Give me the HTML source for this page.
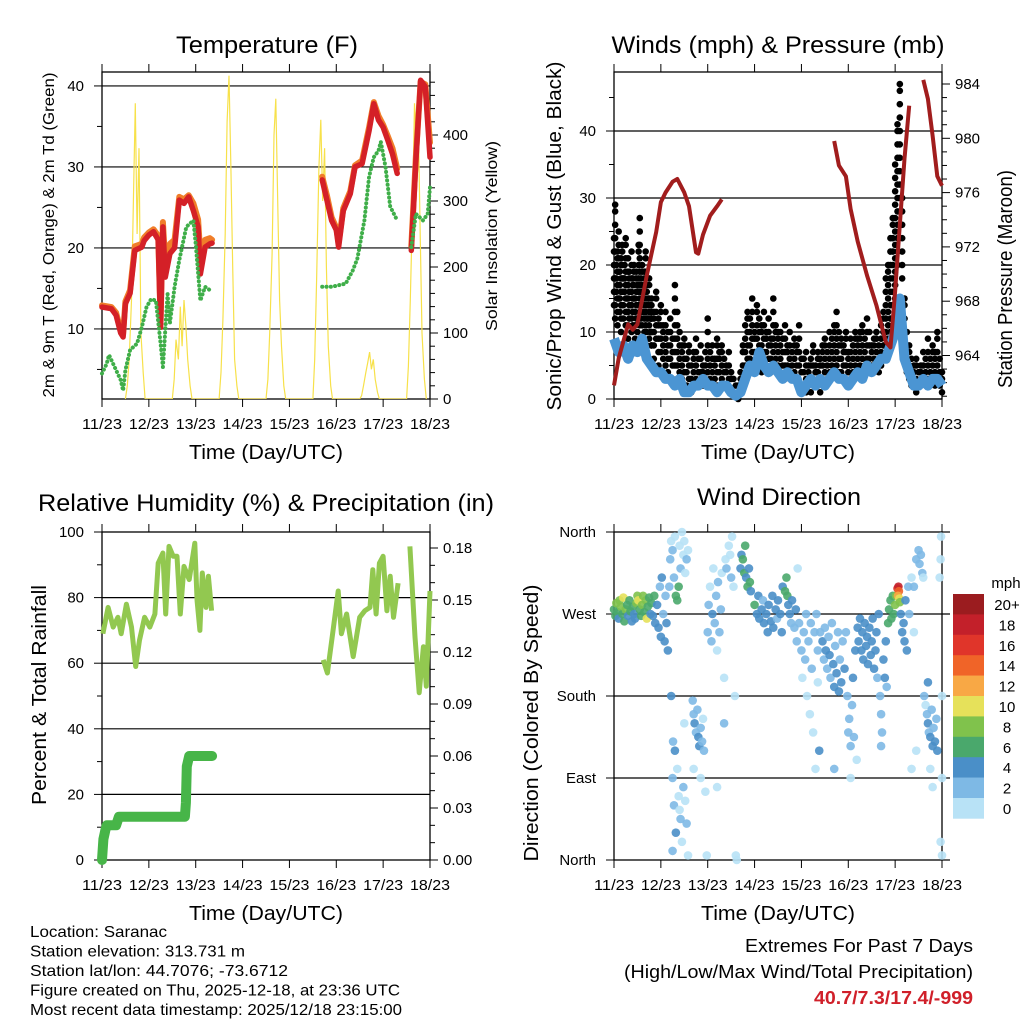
<!DOCTYPE html>
<html><head><meta charset="utf-8"><title>Saranac station meteogram</title>
<style>
html,body{margin:0;padding:0;background:#fff;}
svg{display:block;font-family:"Liberation Sans",sans-serif;}
</style></head>
<body>
<svg id="chart" width="1024" height="1024" viewBox="0 0 1024 1024" xmlns="http://www.w3.org/2000/svg"></svg>
<script>
// ---------- DATA ----------
const dayLabels = ['11/23','12/23','13/23','14/23','15/23','16/23','17/23','18/23'];
const tempT = [0,0.2,0.3,0.4,0.45,0.5,0.6,0.7,0.85,0.9,1.0,1.1,1.2,1.25,1.3,1.35,1.45,1.55,1.65,1.75,1.85,1.95,2.05,2.1,2.2,2.3,2.35,null,4.7,4.8,4.9,5.0,5.05,5.15,5.3,5.4,5.55,5.7,5.8,5.9,6.0,6.1,6.2,6.3,null,6.6,6.7,6.8,6.9,7.0];
const tempRed = [12.7,12.5,11.7,9.5,9.0,13.1,14.4,19.7,20.1,20.9,21.6,22,21,10.2,22.6,16.4,19.3,20,25.9,25.5,26.3,24.6,22.6,16.8,20.1,20.5,20.6,null,28.4,25.9,23.4,22.2,20.1,24.6,26.7,30,30.4,34.5,37.8,35.8,34.9,33.3,31.6,29.2,null,19.7,30.8,40.7,39.9,31.2];
const tempOrange = [12.9,12.7,12.0,9.8,9.3,13.4,14.8,20.2,20.5,21.3,21.9,22.3,21.5,11.0,23.2,18.0,20.5,21.0,26.3,26.0,26.5,25.5,23.5,19.0,21.0,21.2,21.0,null,28.8,26.5,23.8,22.5,20.6,24.9,27.0,30.2,30.8,34.9,38.0,36.3,35.2,33.8,32.3,29.8,null,20.2,31.3,40.5,40.2,33.0];
const dewT = [0,0.1,0.15,0.3,0.4,0.45,0.5,0.6,0.75,0.85,0.95,1.05,1.15,1.25,1.3,1.4,1.45,1.55,1.65,1.8,1.95,2.0,2.1,2.2,2.35,null,4.7,4.9,5.2,5.35,5.45,5.6,5.7,5.8,5.9,5.95,6.05,6.15,6.3,null,6.6,6.7,6.85,6.95,7.0];
const dewV = [4.5,5.7,6.8,4.9,3.7,2.4,4.9,7.4,8.2,10.2,12.7,13.7,13.5,8.2,5.3,14.3,10.7,15.2,18.5,22.6,23.4,20.5,13.5,15.2,14.6,null,15.2,15.2,15.6,17.2,18.7,23.4,28.8,31.2,32,33.1,30,25.1,23.4,null,20.1,24.2,23.4,24.2,27.5];
const solarOffsets = [0.50,0.54,0.58,0.63,0.67,0.71,0.75,0.79,0.83,0.88,0.92];
const solarV = [
 0,20,60,150,300,448,250,380,100,40,0,
 0,30,90,60,140,80,150,110,60,20,0,
 0,40,120,250,420,490,350,200,60,20,0,
 0,30,100,220,400,455,300,150,80,20,0,
 0,60,180,350,423,300,380,200,80,20,0,
 0,5,20,40,55,71,45,60,30,10,0,
 0,50,150,300,448,380,420,250,100,30,0];
const windStep = 0.1;
const windV = [9,7,8,6,8,7,9,6,5,4, 4,3,3,2,3,1,1,2,2,3, 2,2,1,2,2,1,0.5,1,3,5, 4,7,5,4,5,4,3,4,3,3, 1,2,3,2,3,2,3,4,3,3, 2,3,4,3,5,4,5,6,6,8, 10,15,6,4,2,2,3,2,3,3,2];
const gustStepA = 0.025;
const gustHiA = [24,29,20,22,25,19,21,23,18,20,24,17,21,19,16,22,18,20,15,19,17,23,27,18,20,16,19,22,17,15,18,14,13];
const gustLoA = [14,12,16,11,15,13,10,14,12,16,11,13,9,12,14,10,11,13,9,12,10,14,11,12,9,13,10,11,8,12,9,10,8];
const gustStartB = 0.8, gustStepB = 0.05;
const gustHiB = [15,13,16,12,14,11,13,10,12,9,17, 13,10,8,9, 6,8,5,7,9,6,8,5,7,12, 7,8,6,9,7,8,6,5,7,4, 3,2,2,4, 8,11,13,12,15,10, 14,12,11,13,10,12,9,15,11,10, 10,9,11,8,10,7,9,8,11,6, 6,7,5,6,8,5,7,6, 8,9,7,10,9,11,13,10, 9,8,10,7,9,8,10,9, 10,11,9,12,10,8, 9,10,8,11,13,18, 20,24,27,35, 41,47,30,15, 10,8,6,5,6,4, 5,7,6,9,6,8,7,10,6,4];
const gustLoB = [8,6,9,5,7,6,5,4,6,3,5, 3,2,3,2, 2,3,1,2,3,2,4,2,3,4, 3,2,3,2,4,3,2,2,3,1, 1,0.5,0,1, 3,5,6,4,7,5, 5,6,4,7,5,6,4,5,6,5, 4,5,3,5,4,3,4,3,5,2, 2,1,2,1,3,2,2,1, 3,4,3,4,5,4,5,4, 4,3,5,4,3,4,5,4, 5,4,5,6,4,5, 4,5,4,5,6,8, 9,10,12,15, 20,28,18,8, 4,3,2,2,1,2, 2,3,2,3,2,3,2,3,2,1];
const presT = [0,0.1,0.3,0.4,0.5,0.7,0.9,1.0,1.1,1.25,1.35,1.5,1.6,1.75,1.8,1.9,2.05,2.2,2.3,null,4.7,4.8,4.95,5.05,5.2,5.4,5.6,5.8,5.9,6.0,6.1,6.2,6.3,null,6.6,6.7,6.8,6.9,7.0];
const presV = [961.8,963.8,966.3,965.9,966.3,969.9,973.1,975.3,976,976.8,977,976,975,971.6,971.5,972.9,974.3,975,975.5,null,979.8,978,977.2,974.8,972.4,969.9,967.7,965,964.6,968.7,973.6,978.5,982.4,null,984.3,982.9,980.2,977.2,976.5];
const rhT = [0.02,0.13,0.24,0.34,0.41,0.52,0.63,0.72,0.80,0.91,1.02,1.13,1.20,1.30,1.36,1.43,1.52,1.60,1.67,1.75,1.86,1.98,2.03,2.09,2.14,2.22,2.27,2.34,null,4.72,4.81,4.94,5.04,5.11,5.22,5.36,5.50,5.61,5.72,5.78,5.85,5.92,6.00,6.08,6.15,6.22,6.32,null,6.57,6.68,6.77,6.86,6.92,7.0];
const rhV = [69,77,71,74,69,78,71,59,67,74,71,75,90.5,93.6,75,95.6,92.6,92.6,75,89.5,85.5,96.6,79,70,87.5,77,86.5,76,null,61,57,71,82,69,75,62,74,76,77,88.5,75,90.5,92.6,76,86.5,74,84.4,null,95.6,68,51,65,53,82];
const rainT = [0,0.03,0.07,0.1,0.3,0.36,1.77,1.79,1.81,1.86,2.35];
const rainV = [0,0.012,0.017,0.02,0.02,0.025,0.025,0.033,0.054,0.06,0.06];
const dirT = [0,0.03,0.05,0.08,0.1,0.12,0.15,0.18,0.2,0.22,0.25,0.28,0.3,0.33,0.35,0.38,0.4,0.43,0.45,0.48,0.5,0.52,0.55,0.58,0.6,0.62,0.65,0.68,0.7,0.72,0.75,0.78,0.8,0.83,0.86,0.88,
0.92,0.95,0.98,1.0,1.02,1.05,1.08,1.1,1.12,1.15,1.18,
1.2,1.22,1.25,1.28,1.3,1.32,1.35,1.38,1.4,1.42,1.45,1.48,1.5,1.52,1.55,1.58,
1.22,1.25,1.26,1.28,1.3,1.32,1.35,1.38,1.4,1.42,1.45,1.48,1.5,1.52,1.55,1.58,1.25,
1.68,1.7,1.72,1.75,1.78,1.8,1.82,1.85,1.88,1.9,1.92,1.7,1.85,1.95,1.98,
2.0,2.02,2.05,2.08,2.1,2.12,2.15,2.18,2.2,2.22,2.25,2.28,2.3,2.35,2.35,2.2,2.38,2.4,2.45,2.48,2.5,2.52,2.55,2.58,2.6,2.62,
2.7,2.72,2.75,2.78,2.8,2.82,2.85,2.88,2.9,2.92,
3.0,3.05,3.08,3.1,3.15,3.18,3.2,3.25,3.28,3.3,3.35,3.38,3.4,3.45,3.48,3.5,3.55,3.58,3.6,3.65,3.68,3.7,3.72,3.75,3.78,3.8,3.85,3.88,3.9,3.92,
3.95,4.0,4.02,4.05,4.08,4.1,4.12,4.15,4.18,4.2,4.22,4.25,4.28,4.3,4.32,4.35,4.38,4.4,4.35,
4.45,4.48,4.5,4.52,4.55,4.58,4.6,4.62,4.65,4.68,4.7,4.72,4.75,4.78,4.8,4.82,4.85,4.88,4.7,
4.92,4.95,4.98,5.0,5.02,5.05,5.08,5.1,5.12,5.15,5.18,5.2,5.05,
5.22,5.25,5.28,5.3,5.32,5.35,5.38,5.4,5.42,5.45,5.48,5.5,5.52,5.55,5.58,
5.6,5.62,5.65,5.68,5.7,5.72,5.75,5.78,5.8,5.82,5.7,
5.85,5.87,5.9,5.92,5.95,5.97,6.0,6.02,
6.05,6.07,6.08,6.06,6.09,6.1,
6.12,6.15,6.18,6.2,6.22,6.25,6.28,6.3,
6.35,6.4,6.45,6.5,6.52,6.55,6.58,6.6,6.4,6.35,6.45,
6.62,6.65,6.68,6.7,6.72,6.75,6.78,6.8,6.82,6.85,6.88,6.9,6.7,6.75,6.8,
6.95,6.97,6.98,7.0,7.0,6.97,7.0];
const dirD = [275,268,282,272,265,285,278,270,288,262,275,280,268,285,273,262,278,270,265,282,290,285,275,268,280,290,272,285,265,278,288,270,282,268,290,260,
280,255,300,245,310,270,240,290,260,230,300,
330,350,340,310,355,290,285,300,345,320,360,335,350,315,330,340,
180,90,130,60,120,30,100,70,55,45,20,80,150,65,40,5,10,
175,160,150,140,165,135,125,145,130,155,120,100,90,75,5,
250,280,300,240,270,320,260,290,230,305,250,275,315,200,150,80,330,320,345,335,310,355,300,180,5,0,
320,335,330,315,345,310,300,320,305,295,
280,270,290,265,275,285,260,270,250,280,262,290,255,275,265,285,270,250,300,295,310,290,280,270,260,285,255,275,240,320,
260,230,200,250,220,270,180,240,160,260,210,140,250,100,270,230,120,250,195,
240,220,255,230,210,245,225,200,260,215,190,235,205,250,185,220,195,240,100,
210,250,180,140,155,125,170,200,135,230,110,255,90,
240,265,230,250,220,260,235,245,215,255,225,240,265,210,230,
250,200,270,180,160,140,220,200,240,190,125,
260,275,285,265,290,270,280,290,
298,300,295,290,287,283,
270,250,260,240,285,230,300,270,
310,300,330,340,325,335,315,310,250,100,120,
180,170,160,150,140,135,165,125,145,130,155,120,195,100,80,
310,330,355,180,90,20,5];
const dirS = [7,6,8,7,5,8,9,7,10,6,8,7,5,7,6,4,7,5,4,8,9,10,7,6,8,9,7,8,10,6,7,5,6,4,7,4,
4,4,3,4,4,3,4,2,4,4,3,
2,1,2,3,1,6,6,6,1,2,0,1,1,1,2,1,
4,3,2,2,4,4,1,1,1,3,1,2,0,1,2,1,2,
3,2,4,3,2,4,5,3,2,1,2,1,1,1,1,
2,3,1,2,4,1,3,2,1,2,2,3,1,1,2,1,1,2,1,1,2,0,1,1,1,1,
4,4,6,6,6,4,6,4,6,4,
6,4,4,4,4,2,4,5,4,4,4,4,4,4,2,4,4,4,4,6,6,6,4,4,2,4,2,4,2,1,
2,2,1,2,2,2,1,2,1,2,2,1,3,0,3,2,4,2,1,
4,3,2,4,3,2,4,3,2,4,4,2,4,3,4,2,4,2,2,
4,2,2,2,2,2,2,4,2,4,1,4,1,
4,4,4,4,4,4,4,5,4,4,4,4,4,4,4,
4,3,4,2,2,2,4,4,4,2,2,
6,6,7,6,7,6,8,9,
16,18,15,12,10,8,
4,4,4,4,4,4,2,2,
1,2,2,2,2,2,2,1,1,1,1,
2,1,2,4,2,4,2,4,2,4,2,4,4,1,1,
1,1,0,1,1,1,1];
const speedBins = ['0','2','4','6','8','10','12','14','16','18','20+'];
const speedColors = ['#b8e2f6','#7eb9e5','#4a8fc8','#4aa86c','#80c24c','#e6e15a','#f8a845','#f06428','#e0352a','#c3202a','#9b1c1f'];

// ---------- DRAWING ----------
const NS='http://www.w3.org/2000/svg';
const svg=document.getElementById('chart');
function mk(tag, attrs, parent){const e=document.createElementNS(NS,tag);for(const k in attrs)e.setAttribute(k,attrs[k]);(parent||svg).appendChild(e);return e;}
function grp(name){const g=mk('g',{});return g;}
function txt(g,s,x,y,size,anchor,len,extra){const a=Object.assign({x:x,y:y,'font-size':size,'text-anchor':anchor||'middle',fill:'#000'},extra||{});if(len){a.textLength=len;a.lengthAdjust='spacingAndGlyphs';}const t=mk('text',a,g);t.textContent=s;return t;}
function pathFrom(ts,vs,fx,fy){let d='',pen=false;for(let i=0;i<ts.length;i++){if(ts[i]===null||vs[i]===null){pen=false;continue;}d+=(pen?'L':'M')+fx(ts[i]).toFixed(1)+','+fy(vs[i]).toFixed(1);pen=true;}return d;}

const P={tl:{x0:102,x1:430,y0:72,y1:399},tr:{x0:614,x1:942,y0:72,y1:399},bl:{x0:102,x1:430,y0:532,y1:860},br:{x0:614,x1:942,y0:532,y1:860}};
function xs(p){return t=>p.x0+t*(p.x1-p.x0)/7;}

function frame(p,name){
  const g=grp(name);
  const r=mk('rect',{x:p.x0,y:p.y0,width:p.x1-p.x0,height:p.y1-p.y0,fill:'none',stroke:'#000','stroke-width':1.3},g);
  
  
  const fx=xs(p);
  for(let i=0;i<dayLabels.length;i++){
    const x=fx(i);
    mk('line',{x1:x,x2:x,y1:p.y1,y2:p.y1+8,stroke:'#000','stroke-width':1},g);
    mk('line',{x1:x,x2:x,y1:p.y0,y2:p.y0-8,stroke:'#000','stroke-width':1},g);
    const t=txt(g,dayLabels[i],x,p.y1+30,15,'middle',40);
    
    
  }
  const xt=txt(g,'Time (Day/UTC)',(p.x0+p.x1)/2,p.y1+60,20,'middle',154);
  
  
  return g;
}
function leftAxis(g,p,vals,fy,labels,minor,grid){
  vals.forEach((v,i)=>{const y=fy(v);
    mk('line',{x1:p.x0-8,x2:p.x0,y1:y,y2:y,stroke:'#000','stroke-width':1},g);
    if(grid)mk('line',{x1:p.x0,x2:p.x1,y1:y,y2:y,stroke:'#000','stroke-width':1.2},g);
    const t=txt(g,labels[i],p.x0-18,y+5,15,'end');
    
    });
  (minor||[]).forEach(v=>{const y=fy(v);if(y<p.y0||y>p.y1)return;mk('line',{x1:p.x0-5,x2:p.x0,y1:y,y2:y,stroke:'#000','stroke-width':1},g);});
}
function rightAxis(g,p,vals,fy,labels,minor){
  vals.forEach((v,i)=>{const y=fy(v);
    mk('line',{x1:p.x1,x2:p.x1+8,y1:y,y2:y,stroke:'#000','stroke-width':1},g);
    const t=txt(g,labels[i],p.x1+13,y+5,15,'start');
    
    });
  (minor||[]).forEach(v=>{const y=fy(v);if(y<p.y0||y>p.y1)return;mk('line',{x1:p.x1,x2:p.x1+5,y1:y,y2:y,stroke:'#000','stroke-width':1},g);});
}
function vtitle(g,s,x,yc,size,len,name){const t=txt(g,s,0,0,size,'middle',len,{transform:'translate('+x+','+yc+') rotate(-90)'});}

// ===== Temperature panel =====
(function(){
  const p=P.tl,fx=xs(p);
  const fy=v=>399-(v-1.35)*8.1, fs=v=>399-v*0.66;
  const g=frame(p,'temperature-panel');
  const tt=txt(g,'Temperature (F)',267,53,24,'middle',182);
  
  
  leftAxis(g,p,[10,20,30,40],fy,['10','20','30','40'],[5,15,25,35],true);
  const sm=[];for(let v=20;v<=480;v+=20)if(v%100)sm.push(v);
  rightAxis(g,p,[0,100,200,300,400],fs,['0','100','200','300','400'],sm);
  vtitle(g,'2m & 9m T (Red, Orange) & 2m Td (Green)',54,235,16,325,'temperature-y-title');
  vtitle(g,'Solar Insolation (Yellow)',497,236,16,190,'solar-y-title');
  const cl=mk('clipPath',{id:'ctl'},g);mk('rect',{x:p.x0,y:p.y0,width:p.x1-p.x0,height:p.y1-p.y0},cl);
  const st=[],sv=[];
  for(let d=0;d<7;d++){for(let k=0;k<solarOffsets.length;k++){st.push(d+solarOffsets[k]);sv.push(solarV[d*solarOffsets.length+k]);}}
  const sl=mk('path',{d:pathFrom(st,sv,fx,fs),fill:'none',stroke:'#f7e14a','stroke-width':1.2,'clip-path':'url(#ctl)'},g);
  
  
  const ol=mk('path',{d:pathFrom(tempT,tempOrange,fx,fy),fill:'none',stroke:'#f07e2a','stroke-width':6,'stroke-linejoin':'round','stroke-linecap':'round'},g);
  
  
  const rl=mk('path',{d:pathFrom(tempT,tempRed,fx,fy),fill:'none',stroke:'#d42027','stroke-width':5.5,'stroke-linejoin':'round','stroke-linecap':'round'},g);
  
  
  const dl=mk('path',{d:pathFrom(dewT,dewV,fx,fy),fill:'none',stroke:'#3fae49','stroke-width':4,'stroke-dasharray':'0.1 4.2','stroke-linecap':'round'},g);
  
  
})();

// ===== Winds panel =====
(function(){
  const p=P.tr,fx=xs(p);
  const fy=v=>399-v*6.7, fp=v=>84+(984-v)*13.575;
  const g=frame(p,'winds-panel');
  const tt=txt(g,'Winds (mph) & Pressure (mb)',778,53,24,'middle',333);
  
  
  leftAxis(g,p,[0,10,20,30,40],fy,['0','10','20','30','40'],[5,15,25,35,45],true);
  const pm=[];for(let v=961;v<=984;v+=1)if(v%4)pm.push(v);
  rightAxis(g,p,[964,968,972,976,980,984],fp,['964','968','972','976','980','984'],pm);
  vtitle(g,'Sonic/Prop Wind & Gust (Blue, Black)',561,236,20,349,'wind-y-title');
  vtitle(g,'Station Pressure (Maroon)',1012,279,20,218,'pressure-y-title');
  const gd=grp('gust-points');g.appendChild(gd);
  function dots(t,hi,lo){
    for(let v=lo;v<hi;v+=2.0){const c=mk('circle',{cx:fx(t),cy:fy(v),r:3.3,fill:'#000'},gd);}
    const c=mk('circle',{cx:fx(t),cy:fy(hi),r:3.3,fill:'#000'},gd);
    
    
  }
  gustHiA.forEach((h,i)=>dots(i*gustStepA,h,gustLoA[i]));
  gustHiB.forEach((h,i)=>dots(gustStartB+i*gustStepB,h,gustLoB[i]));
  const wt=windV.map((v,i)=>i*windStep);
  const wl=mk('path',{d:pathFrom(wt,windV,fx,fy),fill:'none',stroke:'#4b95d3','stroke-width':10,'stroke-linejoin':'round'},g);
  
  
  const pl=mk('path',{d:pathFrom(presT,presV,fx,fp),fill:'none',stroke:'#a11d1d','stroke-width':4,'stroke-linejoin':'round'},g);
  
  
})();

// ===== RH & precip panel =====
(function(){
  const p=P.bl,fx=xs(p);
  const fy=v=>860-v*3.28, fr=v=>860-v*1733.3;
  const g=frame(p,'humidity-panel');
  const tt=txt(g,'Relative Humidity (%) & Precipitation (in)',266,511,24,'middle',456);
  
  
  leftAxis(g,p,[0,20,40,60,80,100],fy,['0','20','40','60','80','100'],[10,30,50,70,90],false);
  [20,40,60,80].forEach(v=>mk('line',{x1:p.x0,x2:p.x1,y1:fy(v),y2:fy(v),stroke:'#000','stroke-width':1.2},g));
  const rm=[];for(let v=0.01;v<0.19;v+=0.01){if(Math.round(v*100)%3)rm.push(v);}
  rightAxis(g,p,[0,0.03,0.06,0.09,0.12,0.15,0.18],fr,['0.00','0.03','0.06','0.09','0.12','0.15','0.18'],rm);
  vtitle(g,'Percent & Total Rainfall',46,695,20,220,'humidity-y-title');
  const pr=mk('path',{d:pathFrom(rainT,rainV,fx,fr),fill:'none',stroke:'#47b548','stroke-width':10,'stroke-linejoin':'round','stroke-linecap':'round'},g);
  
  
  const rh=mk('path',{d:pathFrom(rhT,rhV,fx,fy),fill:'none',stroke:'#92c850','stroke-width':5,'stroke-linejoin':'round'},g);
  
  
})();

// ===== Wind direction panel =====
(function(){
  const p=P.br,fx=xs(p);
  const fy=d=>860-d*(328/360);
  const g=frame(p,'wind-direction-panel');
  const tt=txt(g,'Wind Direction',779,505,24,'middle',164);
  
  
  leftAxis(g,p,[0,90,180,270,360],fy,['North','East','South','West','North'],[],false);
  [90,180,270].forEach(v=>mk('line',{x1:p.x0,x2:p.x1+8,y1:fy(v),y2:fy(v),stroke:'#000','stroke-width':1.2},g));
  [0,360].forEach(v=>mk('line',{x1:p.x1,x2:p.x1+8,y1:fy(v),y2:fy(v),stroke:'#000','stroke-width':1.2},g));
  vtitle(g,'Direction (Colored By Speed)',538,723,20,277,'direction-y-title');
  const gd=grp('direction-points');g.appendChild(gd);
  dirT.forEach((t,i)=>{
    const b=Math.min(10,Math.floor(dirS[i]/2));
    const c=mk('circle',{cx:fx(t),cy:fy(dirD[i]),r:4.3,fill:speedColors[b],'fill-opacity':0.9},gd);
    
    
  });
  const cb=grp('speed-colorbar');
  const mt=txt(cb,'mph',1006,588,15,'middle');
  
  
  const top=594,h=20.4;
  for(let i=0;i<speedBins.length;i++){
    const k=speedBins.length-1-i;
    const r=mk('rect',{x:953,y:top+i*h,width:31,height:h+0.3,fill:speedColors[k]},cb);
    
    
    const t=txt(cb,speedBins[k],1007,top+i*h+16,15,'middle');
    
    
  }
})();

// ===== Footer =====
(function(){
  const g=grp('station-info');
  const lines=['Location: Saranac','Station elevation: 313.731 m','Station lat/lon: 44.7076; -73.6712','Figure created on Thu, 2025-12-18, at 23:36 UTC','Most recent data timestamp: 2025/12/18 23:15:00'];
  const lens=[137,215,258,370,372];
  lines.forEach((s,i)=>{const t=txt(g,s,30,937+i*19.5,16,'start',lens[i]);});
  const e=grp('extremes');
  const a=txt(e,'Extremes For Past 7 Days',973,952,18,'end',228);
  
  
  const b=txt(e,'(High/Low/Max Wind/Total Precipitation)',973,978,18,'end',349);
  
  
  const c=txt(e,'40.7/7.3/17.4/-999',973,1004,18,'end',159,{fill:'#d0202a','font-weight':'bold'});
  
  
})();
</script>
</body></html>
